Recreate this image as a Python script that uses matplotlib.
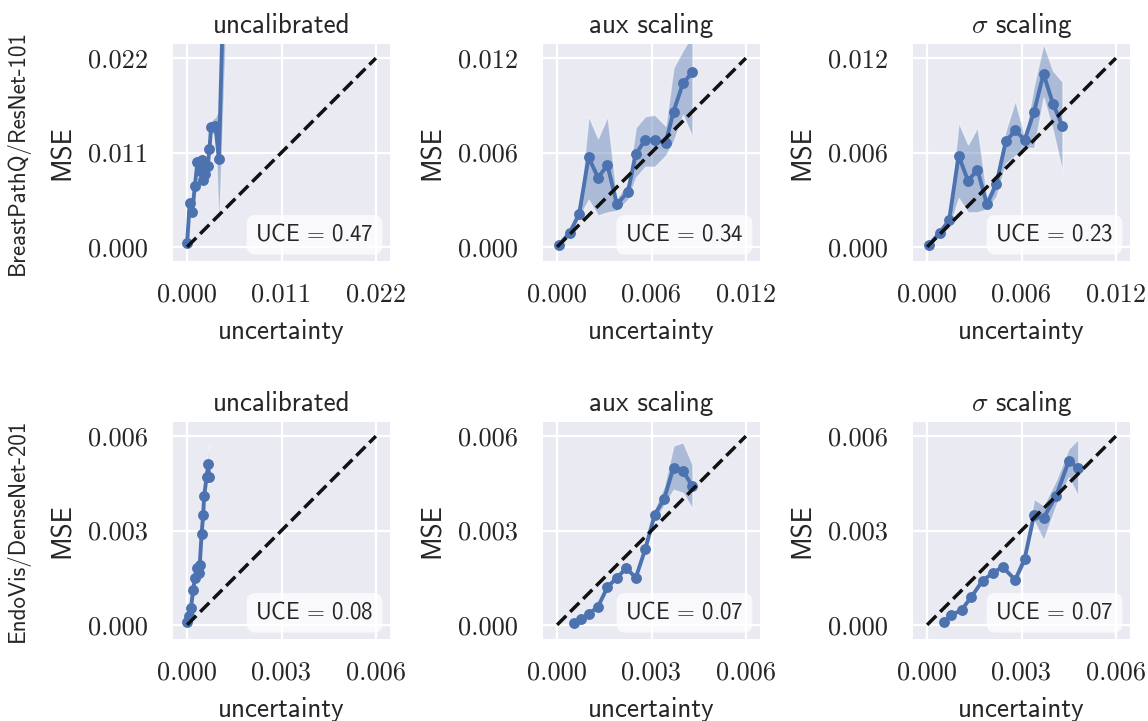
import matplotlib
matplotlib.use("Agg")
import matplotlib.pyplot as plt

# ---- data ----
# BreastPathQ / ResNet-101
bpq_unc_x = [0.0000, 0.0003, 0.0006, 0.0009, 0.0012, 0.0015, 0.0017, 0.0019, 0.0021,
             0.0024, 0.0026, 0.0028, 0.0033, 0.0037, 0.0045]
bpq_unc_y = [0.0005, 0.0051, 0.0041, 0.0071, 0.0099, 0.0088, 0.0101, 0.0078, 0.0085,
             0.0094, 0.0114, 0.0140, 0.0141, 0.0102, 0.0400]
bpq_unc_lo = [0.0004, 0.0048, 0.0038, 0.0068, 0.0094, 0.0082, 0.0095, 0.0072, 0.0080,
              0.0089, 0.0108, 0.0133, 0.0130, 0.0020, 0.0250]
bpq_unc_hi = [0.0006, 0.0054, 0.0044, 0.0074, 0.0104, 0.0094, 0.0107, 0.0084, 0.0090,
              0.0099, 0.0120, 0.0147, 0.0152, 0.0160, 0.0550]

bpq_aux_x = [0.0001, 0.0008, 0.0014, 0.0020, 0.0026, 0.0032, 0.0038, 0.0045, 0.0050,
             0.0056, 0.0062, 0.0069, 0.0074, 0.0080, 0.0086]
bpq_aux_y = [0.0001, 0.0009, 0.0021, 0.0057, 0.0044, 0.0052, 0.0027, 0.0035, 0.0059,
             0.0068, 0.0068, 0.0066, 0.0086, 0.0104, 0.0111]
bpq_aux_lo = [0.0000, 0.0007, 0.0019, 0.0030, 0.0020, 0.0022, 0.0023, 0.0030, 0.0044,
              0.0051, 0.0051, 0.0058, 0.0067, 0.0084, 0.0070]
bpq_aux_hi = [0.0002, 0.0011, 0.0023, 0.0083, 0.0069, 0.0083, 0.0031, 0.0041, 0.0076,
              0.0083, 0.0084, 0.0077, 0.0114, 0.0125, 0.0135]

bpq_sig_x = [0.0001, 0.0008, 0.0014, 0.0020, 0.0026, 0.0032, 0.0038, 0.0044, 0.0050,
             0.0056, 0.0062, 0.0068, 0.0074, 0.0080, 0.0086]
bpq_sig_y = [0.0001, 0.0009, 0.0017, 0.0058, 0.0042, 0.0049, 0.0027, 0.0040, 0.0067,
             0.0074, 0.0068, 0.0086, 0.0110, 0.0091, 0.0077]
bpq_sig_lo = [0.0000, 0.0007, 0.0012, 0.0031, 0.0022, 0.0022, 0.0024, 0.0032, 0.0053,
              0.0058, 0.0063, 0.0063, 0.0095, 0.0074, 0.0048]
bpq_sig_hi = [0.0002, 0.0011, 0.0020, 0.0079, 0.0065, 0.0076, 0.0032, 0.0046, 0.0074,
              0.0093, 0.0070, 0.0103, 0.0129, 0.0112, 0.0105]

# EndoVis / DenseNet-201
ev_unc_x = [0.00001, 0.00005, 0.00012, 0.00019, 0.00025, 0.00030, 0.00037, 0.00040,
            0.00046, 0.00051, 0.00054, 0.00062, 0.00067, 0.00070]
ev_unc_y = [0.0001, 0.00027, 0.00053, 0.0011, 0.0015, 0.0018, 0.00165, 0.0019,
            0.0029, 0.0035, 0.0041, 0.0047, 0.0051, 0.0047]
ev_unc_lo = [0.0000, 0.0002, 0.0004, 0.0010, 0.0014, 0.0017, 0.0015, 0.0018,
             0.0028, 0.0034, 0.0040, 0.0046, 0.0049, 0.0045]
ev_unc_hi = [0.0002, 0.0004, 0.0006, 0.0012, 0.0016, 0.0019, 0.0018, 0.0020,
             0.0030, 0.0036, 0.0042, 0.0049, 0.0055, 0.0057]

ev_aux_x = [0.00052, 0.00075, 0.0010, 0.0013, 0.0016, 0.0019, 0.0022, 0.0025, 0.0028,
            0.0031, 0.0034, 0.0037, 0.0040, 0.0043]
ev_aux_y = [0.00005, 0.0002, 0.00034, 0.00058, 0.0012, 0.0015, 0.0018, 0.0015, 0.0024,
            0.0035, 0.0040, 0.0050, 0.0049, 0.0044]
ev_aux_lo = [0.00000, 0.00015, 0.00029, 0.00053, 0.00115, 0.00145, 0.00175, 0.00145, 0.0023,
             0.0033, 0.0038, 0.0043, 0.0042, 0.0037]
ev_aux_hi = [0.00010, 0.00025, 0.00039, 0.00063, 0.00125, 0.00155, 0.00185, 0.00155, 0.0025,
             0.0037, 0.0044, 0.0057, 0.0058, 0.0051]

ev_sig_x = [0.00054, 0.00077, 0.0011, 0.0014, 0.00176, 0.0021, 0.0024, 0.0028, 0.0031,
            0.0034, 0.0037, 0.0041, 0.0045, 0.0048]
ev_sig_y = [0.0001, 0.0003, 0.00048, 0.00088, 0.0014, 0.00166, 0.00184, 0.00143, 0.0021,
            0.0035, 0.0034, 0.0041, 0.0052, 0.0050]
ev_sig_lo = [0.00005, 0.00025, 0.00043, 0.00083, 0.00135, 0.00161, 0.00179, 0.00135, 0.0019,
             0.0033, 0.0027, 0.0038, 0.0047, 0.0041]
ev_sig_hi = [0.00015, 0.00035, 0.00053, 0.00093, 0.00145, 0.00171, 0.00189, 0.00151, 0.0023,
             0.0040, 0.0038, 0.0046, 0.0056, 0.0059]

titles = ["uncalibrated", "aux scaling", r"$\sigma$ scaling"]
row_names = ["BreastPathQ/ResNet-101", "EndoVis/DenseNet-201"]
uce_values = [0.47, 0.34, 0.23, 0.08, 0.07, 0.07]
axis_max = [0.022, 0.012, 0.012, 0.006, 0.006, 0.006]

panels = [
    (bpq_unc_x, bpq_unc_y, bpq_unc_lo, bpq_unc_hi),
    (bpq_aux_x, bpq_aux_y, bpq_aux_lo, bpq_aux_hi),
    (bpq_sig_x, bpq_sig_y, bpq_sig_lo, bpq_sig_hi),
    (ev_unc_x, ev_unc_y, ev_unc_lo, ev_unc_hi),
    (ev_aux_x, ev_aux_y, ev_aux_lo, ev_aux_hi),
    (ev_sig_x, ev_sig_y, ev_sig_lo, ev_sig_hi),
]

# ---- style ----
plt.rcParams['mathtext.fontset'] = 'cm'
BLUE = '#4C72B0'
TEXT = '#262626'
SANS = 'cmss10'
SERIF = 'cmr10'

W, H = 1148, 721
fig = plt.figure(figsize=(W / 100, H / 100), dpi=100)

col_left = [173, 543, 913]
row_top = [44, 422]
ax_w, ax_h = 217, 217

for i, (x, y, lo, hi) in enumerate(panels):
    r, c = divmod(i, 3)
    ax = fig.add_axes([col_left[c] / W, 1 - (row_top[r] + ax_h) / H, ax_w / W, ax_h / H])
    ax.set_facecolor('#EAEAF2')
    for s in ax.spines.values():
        s.set_visible(False)

    m = axis_max[i]
    ticks = [0, m / 2, m]
    ax.set_xlim(-0.075 * m, 1.075 * m)
    ax.set_ylim(-0.075 * m, 1.075 * m)
    ax.set_xticks(ticks)
    ax.set_yticks(ticks)
    ax.set_xticklabels([f"{t:.3f}" for t in ticks])
    ax.set_yticklabels([f"{t:.3f}" for t in ticks])
    ax.tick_params(length=0, labelsize=19, labelcolor=TEXT, labelfontfamily=SERIF)
    ax.tick_params(axis='x', pad=16)
    ax.tick_params(axis='y', pad=18)
    ax.grid(True, color='white', lw=1.6)
    ax.set_axisbelow(True)

    ax.fill_between(x, lo, hi, facecolor=(0.298, 0.447, 0.690, 0.4),
                    edgecolor=(1, 1, 1, 0.5), lw=1, zorder=2)
    ax.plot(x, y, '-o', color=BLUE, lw=2.8, ms=6.8, zorder=3)
    ax.plot([0, m], [0, m], '--', color='#111111', lw=2.5, zorder=4)

    ax.text(0.925, 0.07, r"UCE$\,=\,$" + f"{uce_values[i]:.2f}", transform=ax.transAxes,
            ha='right', va='bottom', fontsize=16.5, family=SANS, color=TEXT, zorder=5,
            bbox=dict(boxstyle='round,pad=0.38', fc='white', ec='none', alpha=0.75))

    ax.set_title(titles[c], fontsize=19.5, family=SANS, color=TEXT, pad=8)
    ax.set_xlabel("uncertainty", fontsize=19.5, family=SANS, color=TEXT)
    ax.set_ylabel("MSE", fontsize=19.5, family=SANS, color=TEXT)
    ax.xaxis.set_label_coords(0.5, -0.265)
    ax.yaxis.set_label_coords(-0.45, 0.5)

for r, name in enumerate(row_names):
    fig.text(18 / W, 1 - (row_top[r] + ax_h / 2) / H, name, rotation=90,
             ha='center', va='center', fontsize=16.5, family=SANS, color=TEXT)

fig.savefig("out.png", dpi=100)
